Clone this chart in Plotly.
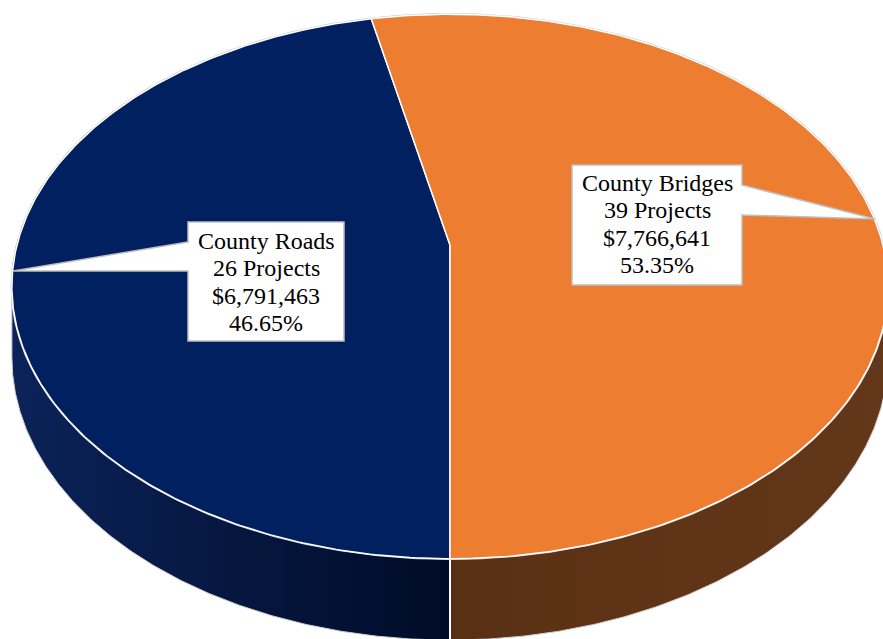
import numpy as np
import plotly.graph_objects as go

# ---- data ----
categories = ["County Roads", "County Bridges"]
projects = [26, 39]
amounts = [6791463, 7766641]
top_colors = ["#002060", "#ED7D31"]
side_grad = [["#0b2359", "#000b27"], ["#5a3014", "#633719"]]

# ---- geometry (layout constants, pixel space) ----
W, H = 883, 639
cx, cy = 450.0, 245.0
Rx = 433.0
A = 228.5
k = 0.1525
D0 = 69.0


def proj(t):
    a = -np.sin(t)
    b = np.cos(t)
    den = 1 - k * b
    return cx + Rx * a / den, (A * b + cy) / den, D0 / den


total = sum(amounts)
fracs = [v / total for v in amounts]
bounds = np.concatenate([[0], np.cumsum(fracs)]) * 2 * np.pi

fig = go.Figure()

ts = np.arccos(k)
vis = [(0.0, ts), (2 * np.pi - ts, 2 * np.pi)]

# side walls
for i in range(len(amounts)):
    lo = max(bounds[i], vis[i][0])
    hi = min(bounds[i + 1], vis[i][1])
    t = np.linspace(lo, hi, 200)
    x, y, d = proj(t)
    xs = np.concatenate([x, x[::-1]])
    ys = np.concatenate([y, (y + d)[::-1]])
    fig.add_trace(go.Scatter(
        x=xs, y=ys, mode="lines", fill="toself",
        fillgradient=dict(type="horizontal",
                          colorscale=[[0, side_grad[i][0]], [1, side_grad[i][1]]]),
        line=dict(color="#cfcfcf", width=1), hoverinfo="skip", showlegend=False))

# divider on the wall
x0, y0, d0 = proj(np.array([0.0]))
fig.add_trace(go.Scatter(x=[x0[0], x0[0]], y=[y0[0], y0[0] + d0[0]], mode="lines",
                         line=dict(color="white", width=2), hoverinfo="skip", showlegend=False))

# outer silhouette (thin gray)
t = np.linspace(0, 2 * np.pi, 600)
x, y, d = proj(t)
fig.add_trace(go.Scatter(x=x, y=y, mode="lines", line=dict(color="#c8c8c8", width=2.5),
                         hoverinfo="skip", showlegend=False))

# top faces
for i in range(len(amounts)):
    t = np.linspace(bounds[i], bounds[i + 1], 300)
    x, y, d = proj(t)
    xs = np.concatenate([[cx], x, [cx]])
    ys = np.concatenate([[cy], y, [cy]])
    fig.add_trace(go.Scatter(x=xs, y=ys, mode="lines", fill="toself",
                             fillcolor=top_colors[i], line=dict(color="white", width=1.5),
                             hoverinfo="skip", showlegend=False))

# ---- callout labels ----
callouts = [
    dict(path="M188,222 L344,222 L344,341 L188,341 L188,271 L13,271 L188,242 Z",
         xc=266, base=248),
    dict(path="M572,165 L742,165 L742,185 L875,219 L742,215 L742,285 L572,285 Z",
         xc=657, base=190),
]
shapes = []
annotations = []
for i, c in enumerate(callouts):
    shapes.append(dict(type="path", path=c["path"], xref="x", yref="y",
                       fillcolor="white", line=dict(color="#bfbfbf", width=1.5)))
    lines = [categories[i], f"{projects[i]} Projects", f"${amounts[i]:,}",
             f"{fracs[i] * 100:.2f}%"]
    for j, s in enumerate(lines):
        annotations.append(dict(x=c["xc"], y=c["base"] + j * 27.6 - 7.5, xref="x", yref="y",
                                text=s, showarrow=False, xanchor="center", yanchor="middle",
                                font=dict(family="Liberation Serif", size=24, color="black")))

fig.update_layout(
    width=W, height=H, margin=dict(l=0, r=0, t=0, b=0),
    paper_bgcolor="white", plot_bgcolor="white",
    xaxis=dict(range=[0, W], visible=False, fixedrange=True),
    yaxis=dict(range=[H, 0], visible=False, fixedrange=True),
    shapes=shapes, annotations=annotations, showlegend=False,
)

fig.write_html("out.html")
